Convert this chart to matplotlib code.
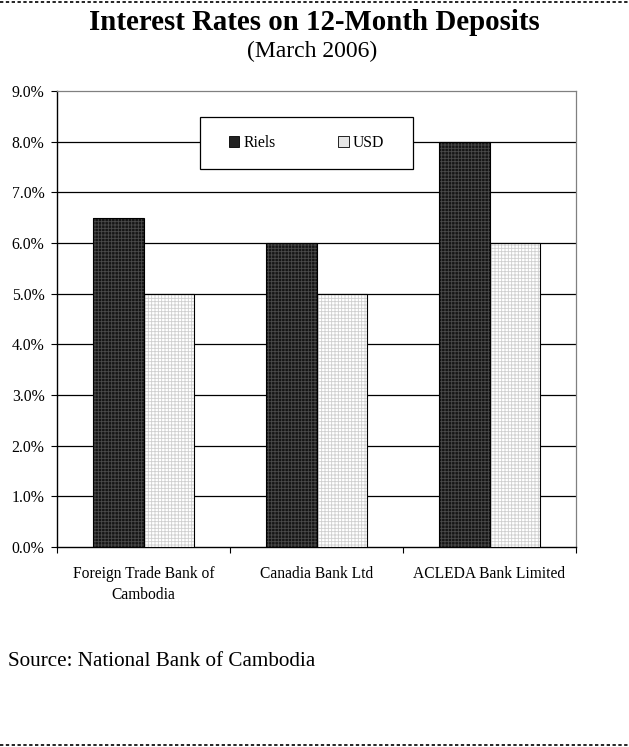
import numpy as np
import matplotlib.pyplot as plt
from matplotlib.lines import Line2D
from matplotlib.patches import Rectangle, Patch

banks = ['Foreign Trade Bank of\nCambodia', 'Canadia Bank Ltd', 'ACLEDA Bank Limited']
riels = [6.5, 6.0, 8.0]
usd = [5.0, 5.0, 6.0]
yticks = [0, 1, 2, 3, 4, 5, 6, 7, 8, 9]

plt.rcParams['font.family'] = 'Liberation Serif'
plt.rcParams['hatch.linewidth'] = 0.6

W, H = 629, 747
fig = plt.figure(figsize=(W/100, H/100), dpi=100)

# plot area in pixels: left 57, right 576, top 91, bottom 547
ax = fig.add_axes([57/W, 1-547/H, (576-57)/W, (547-91)/H])

x = np.arange(len(banks))
w = 0.29
# stippled fill, then black outline on top
ax.bar(x - w/2, riels, w, color='#151515', edgecolor='#4a4a4a', hatch='+++++', linewidth=0, zorder=3)
ax.bar(x + w/2, usd, w, color='white', edgecolor='#cfcfcf', hatch='+++++', linewidth=0, zorder=3)
ax.bar(x - w/2, riels, w, facecolor='none', edgecolor='black', linewidth=0.8, zorder=4)
ax.bar(x + w/2, usd, w, facecolor='none', edgecolor='black', linewidth=0.8, zorder=4)

ax.set_xlim(-0.5, 2.5)
ax.set_ylim(0, 9)
ax.set_yticks(yticks)
ax.set_yticklabels(['%.1f%%' % v for v in yticks], fontsize=11.3)
for v in yticks[1:-1]:
    ax.axhline(v, color='black', linewidth=0.9, zorder=1)

ax.set_xticks([-0.5, 0.5, 1.5, 2.5])
ax.set_xticklabels([])
ax.set_xticks(x, minor=True)
ax.set_xticklabels(banks, minor=True, fontsize=11.2, linespacing=1.4)
ax.tick_params(axis='x', which='minor', length=0, pad=14)
ax.tick_params(axis='x', which='major', length=4, width=0.8, direction='out')
ax.tick_params(axis='y', length=4, width=0.8, direction='out', pad=5)

for s in ['top', 'right']:
    ax.spines[s].set_color('#808080')
    ax.spines[s].set_linewidth(0.9)
for s in ['left', 'bottom']:
    ax.spines[s].set_color('black')
    ax.spines[s].set_linewidth(1.0)

# legend box drawn by hand, entries placed inside it
box = Rectangle((200/W, 1-169/H), 213/W, 52/H, transform=fig.transFigure,
                facecolor='white', edgecolor='black', linewidth=0.9, zorder=5)
fig.add_artist(box)
handles = [Patch(facecolor='#222222', edgecolor='black', linewidth=0.6, label='Riels'),
           Patch(facecolor='#e6e6e6', edgecolor='black', linewidth=0.6, label='USD')]
leg = fig.legend(handles=handles, loc='center', bbox_to_anchor=(306.5/W, 1-143/H),
                 ncol=2, fontsize=11.3, frameon=False,
                 handlelength=0.65, handleheight=0.65, handletextpad=0.25,
                 columnspacing=4.0, borderpad=0, borderaxespad=0)
leg.set_zorder(6)

fig.text(0.5, 1-22/H, 'Interest Rates on 12-Month Deposits', ha='center', va='center',
         fontsize=20.8, fontweight='bold')
fig.text(312/W, 1-51/H, '(March 2006)', ha='center', va='center', fontsize=17)
fig.text(8/W, 1-661/H, 'Source: National Bank of Cambodia', ha='left', va='center', fontsize=15.2)

for yy in [1.5, 744.5]:
    fig.add_artist(Line2D([0, 1], [1-yy/H, 1-yy/H], color='black', linewidth=1.2,
                          linestyle=(0, (2, 1.5)), transform=fig.transFigure))

fig.savefig('out.png', dpi=100)
